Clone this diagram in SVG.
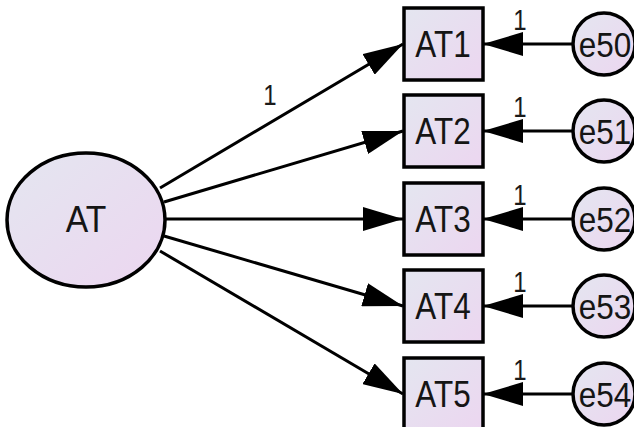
<svg xmlns="http://www.w3.org/2000/svg" width="634" height="427" viewBox="0 0 634 427">
<defs>
<linearGradient id="g" x1="0" y1="0" x2="1" y2="1">
<stop offset="0" stop-color="#e4e6f0"/>
<stop offset="1" stop-color="#ecd6f0"/>
</linearGradient>
<marker id="ah" viewBox="0 0 40 24" refX="40" refY="12" markerWidth="40" markerHeight="24" markerUnits="userSpaceOnUse" orient="auto">
<path d="M0,0 L40,12 L0,24 Z" fill="#000"/>
</marker>
<style>
.n{fill:url(#g);stroke:#000;stroke-width:3.5}
.t{font-family:"Liberation Sans",Arial,sans-serif;fill:#151515;text-anchor:middle}
.c{stroke:#000;stroke-width:3;fill:none;marker-end:url(#ah)}
.l{font-family:"Liberation Sans",Arial,sans-serif;fill:#1a1a1a;font-size:30px;text-anchor:middle}
</style>
</defs>
<g id="connectors">
<line class="c" x1="160" y1="188" x2="403" y2="44"/>
<line class="c" x1="164" y1="202" x2="403" y2="131"/>
<line class="c" x1="166" y1="219" x2="403" y2="219"/>
<line class="c" x1="164" y1="236" x2="403" y2="306"/>
<line class="c" x1="160" y1="251" x2="403" y2="394"/>
<line class="c" x1="573" y1="44" x2="483" y2="44"/>
<line class="c" x1="573" y1="131" x2="483" y2="131"/>
<line class="c" x1="573" y1="219" x2="483" y2="219"/>
<line class="c" x1="573" y1="306" x2="483" y2="306"/>
<line class="c" x1="573" y1="394" x2="483" y2="394"/>
<text class="l" transform="translate(270,105) scale(0.8,1)">1</text>
<text class="l" transform="translate(520,30) scale(0.8,1)">1</text>
<text class="l" transform="translate(520,117) scale(0.8,1)">1</text>
<text class="l" transform="translate(520,205) scale(0.8,1)">1</text>
<text class="l" transform="translate(520,292) scale(0.8,1)">1</text>
<text class="l" transform="translate(520,380) scale(0.8,1)">1</text>
</g>
<g id="AT">
<ellipse class="n" cx="86" cy="220" rx="79" ry="67"/>
<text class="t" font-size="37" transform="translate(86,232) scale(0.91,1)">AT</text>
</g>
<g id="AT1"><rect class="n" x="404" y="8" width="79" height="72"/><text class="t" font-size="37" transform="translate(443,57) scale(0.85,1)">AT1</text></g>
<g id="AT2"><rect class="n" x="404" y="95" width="79" height="72"/><text class="t" font-size="37" transform="translate(443,144) scale(0.85,1)">AT2</text></g>
<g id="AT3"><rect class="n" x="404" y="183" width="79" height="72"/><text class="t" font-size="37" transform="translate(443,232) scale(0.85,1)">AT3</text></g>
<g id="AT4"><rect class="n" x="404" y="270" width="79" height="72"/><text class="t" font-size="37" transform="translate(443,319) scale(0.85,1)">AT4</text></g>
<g id="AT5"><rect class="n" x="404" y="358" width="79" height="72"/><text class="t" font-size="37" transform="translate(443,407) scale(0.85,1)">AT5</text></g>
<g id="e50"><circle class="n" cx="604" cy="44" r="31"/><text class="t" font-size="35" transform="translate(605,57) scale(0.9,1)">e50</text></g>
<g id="e51"><circle class="n" cx="604" cy="131" r="31"/><text class="t" font-size="35" transform="translate(605,144) scale(0.9,1)">e51</text></g>
<g id="e52"><circle class="n" cx="604" cy="219" r="31"/><text class="t" font-size="35" transform="translate(605,232) scale(0.9,1)">e52</text></g>
<g id="e53"><circle class="n" cx="604" cy="306" r="31"/><text class="t" font-size="35" transform="translate(605,319) scale(0.9,1)">e53</text></g>
<g id="e54"><circle class="n" cx="604" cy="394" r="31"/><text class="t" font-size="35" transform="translate(605,407) scale(0.9,1)">e54</text></g>
</svg>
